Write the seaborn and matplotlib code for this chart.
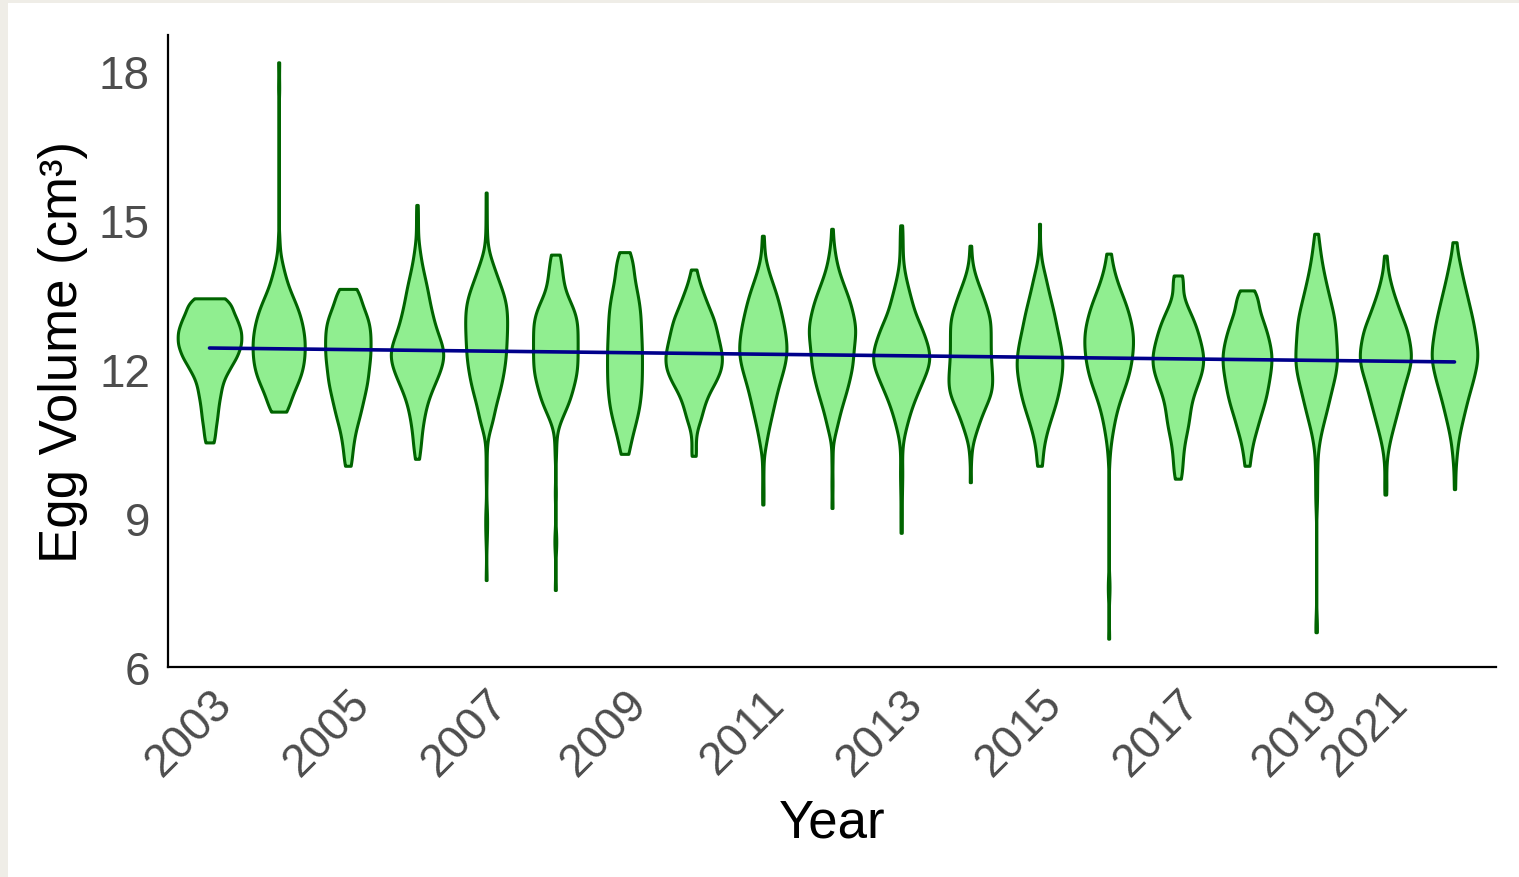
import numpy as np
import pandas as pd
import matplotlib
matplotlib.use("Agg")
import matplotlib.pyplot as plt
import seaborn as sns

# Years sampled (no 2020 season)
years = [2003, 2004, 2005, 2006, 2007, 2008, 2009, 2010, 2011, 2012,
         2013, 2014, 2015, 2016, 2017, 2018, 2019, 2021, 2022]
label_years = [2003, 2005, 2007, 2009, 2011, 2013, 2015, 2017, 2019, 2021]

# (egg volume, relative count)
v2003 = [(10.52, 4), (10.75, 5), (11.0, 7), (11.25, 8), (11.5, 10), (11.75, 12), (12.0, 18),
         (12.25, 25), (12.5, 29), (12.75, 29), (13.0, 25), (13.25, 18), (13.42, 11)]
v2004 = [(11.14, 8), (11.35, 11), (11.6, 17), (11.85, 23), (12.1, 26), (12.35, 27), (12.6, 27),
         (12.85, 25), (13.1, 22), (13.35, 17), (13.6, 11), (13.85, 7), (14.1, 4), (14.35, 1),
         (14.6, 1), (17.65, 1), (18.17, 1)]
v2005 = [(10.05, 3), (10.25, 4), (10.5, 6), (10.75, 8), (11.0, 12), (11.25, 15), (11.5, 18),
         (11.75, 21), (12.0, 22), (12.25, 24), (12.5, 24), (12.75, 24), (13.0, 22), (13.25, 16),
         (13.5, 10), (13.61, 6)]
v2006 = [(10.19, 2), (10.4, 3), (10.6, 4), (10.85, 6), (11.1, 8), (11.35, 11), (11.6, 16),
         (11.85, 22), (12.1, 27), (12.35, 29), (12.6, 24), (12.85, 19), (13.1, 16), (13.35, 13),
         (13.6, 11), (13.85, 8), (14.1, 5), (14.35, 3), (14.55, 1), (14.8, 1), (15.05, 1), (15.3, 1)]
v2007 = [(7.75, 1), (8.6, 1), (8.9, 1), (9.1, 1), (9.9, 1), (10.4, 1), (10.85, 4), (11.0, 6),
         (11.25, 9), (11.5, 13), (11.75, 16), (12.0, 18), (12.25, 20), (12.5, 20), (12.75, 21),
         (13.0, 21), (13.25, 21), (13.5, 18), (13.75, 13), (14.0, 8), (14.2, 4), (14.45, 1),
         (14.7, 1), (15.1, 1), (15.55, 1)]
v2008 = [(7.55, 1), (8.45, 1), (8.6, 1), (9.5, 1), (10.3, 1), (10.6, 1), (10.93, 3), (11.1, 6),
         (11.3, 10), (11.5, 14), (11.75, 19), (12.0, 21), (12.25, 21), (12.5, 21), (12.75, 21),
         (13.0, 21), (13.25, 17), (13.5, 10), (13.75, 7), (14.0, 7), (14.3, 6)]
v2009 = [(10.29, 4), (10.5, 5), (10.75, 9), (11.0, 12), (11.25, 15), (11.5, 16), (11.75, 17),
         (12.0, 17), (12.25, 17), (12.5, 17), (12.75, 16), (13.0, 16), (13.25, 15), (13.5, 13),
         (13.75, 10), (14.0, 8), (14.2, 6), (14.35, 4)]
v2010 = [(10.25, 3), (10.5, 2), (10.75, 3), (11.0, 8), (11.25, 11), (11.5, 16), (11.75, 24),
         (12.0, 30), (12.25, 31), (12.5, 28), (12.75, 25), (13.0, 22), (13.25, 16), (13.5, 11),
         (13.75, 6), (14.0, 3)]
v2011 = [(9.27, 1), (9.6, 1), (10.0, 1), (10.4, 2), (10.6, 4), (10.85, 7), (11.1, 10), (11.35, 13),
         (11.6, 16), (11.85, 20), (12.1, 24), (12.35, 26), (12.6, 25), (12.85, 23), (13.1, 20),
         (13.35, 17), (13.6, 13), (13.85, 8), (14.1, 4), (14.35, 1), (14.5, 1), (14.68, 1)]
v2012 = [(9.2, 1), (9.7, 1), (10.2, 1), (10.66, 2), (10.86, 5), (11.1, 8), (11.35, 12), (11.6, 16),
         (11.85, 19), (12.1, 22), (12.35, 22), (12.6, 24), (12.85, 25), (13.1, 22), (13.35, 19),
         (13.6, 14), (13.85, 9), (14.1, 5), (14.35, 3), (14.6, 1), (14.82, 1)]
v2013 = [(8.7, 1), (9.1, 1), (9.5, 1), (9.8, 1), (10.0, 1), (10.3, 1), (10.6, 2), (10.85, 5),
         (11.1, 8), (11.35, 12), (11.6, 17), (11.85, 22), (12.1, 27), (12.35, 27), (12.6, 23),
         (12.85, 19), (13.1, 13), (13.35, 10), (13.6, 7), (13.85, 4), (14.1, 2), (14.35, 1),
         (14.5, 1), (14.7, 1), (14.89, 1)]
v2014 = [(9.72, 1), (10.2, 1), (10.5, 2), (10.75, 6), (11.0, 10), (11.25, 15), (11.5, 21),
         (11.75, 22), (12.0, 21), (12.25, 20), (12.5, 20), (12.75, 20), (13.0, 20), (13.25, 16),
         (13.5, 12), (13.75, 7), (14.0, 3), (14.25, 1), (14.48, 1)]
v2015 = [(10.05, 3), (10.3, 3), (10.55, 5), (10.8, 8), (11.05, 12), (11.3, 16), (11.55, 19),
         (11.8, 21), (12.05, 23), (12.3, 22), (12.55, 20), (12.8, 17), (13.05, 15), (13.3, 12),
         (13.55, 9), (13.8, 6), (14.0, 3), (14.2, 1), (14.4, 1), (14.92, 1)]
v2016 = [(6.57, 1), (7.5, 1), (7.7, 1), (10.2, 1), (10.5, 2), (10.75, 4), (11.0, 6), (11.25, 9),
         (11.5, 13), (11.75, 18), (12.0, 21), (12.25, 23), (12.5, 24), (12.75, 24), (13.0, 21),
         (13.25, 18), (13.5, 13), (13.75, 8), (14.0, 5), (14.32, 3)]
v2017 = [(9.79, 3), (10.0, 4), (10.25, 5), (10.5, 6), (10.75, 9), (11.0, 11), (11.25, 12),
         (11.5, 15), (11.75, 20), (12.0, 24), (12.25, 25), (12.5, 22), (12.75, 19), (13.0, 15),
         (13.25, 9), (13.5, 4), (13.75, 4), (13.88, 4)]
v2018 = [(10.05, 3), (10.3, 3), (10.5, 5), (10.75, 9), (11.0, 12), (11.25, 16), (11.5, 19),
         (11.75, 21), (12.0, 23), (12.25, 24), (12.5, 22), (12.75, 19), (13.0, 15), (13.25, 10),
         (13.45, 7), (13.58, 5)]
v2019 = [(6.7, 1), (6.85, 1), (9.3, 1), (9.5, 1), (9.8, 1), (10.0, 1), (10.2, 1), (10.5, 3),
         (10.75, 5), (11.0, 9), (11.25, 12), (11.5, 15), (11.75, 18), (12.0, 22), (12.25, 22),
         (12.5, 21), (12.75, 20), (13.0, 20), (13.25, 16), (13.5, 13), (13.75, 10), (14.0, 7),
         (14.25, 5), (14.5, 3), (14.72, 2)]
v2021 = [(9.47, 1), (9.7, 1), (10.0, 1), (10.3, 2), (10.55, 4), (10.8, 7), (11.05, 10), (11.3, 13),
         (11.55, 16), (11.8, 19), (12.05, 23), (12.3, 24), (12.55, 22), (12.8, 20), (13.05, 15),
         (13.3, 11), (13.55, 7), (13.8, 4), (14.0, 1), (14.15, 1), (14.28, 1)]
v2022 = [(9.58, 1), (9.9, 1), (10.2, 2), (10.45, 3), (10.7, 5), (10.95, 8), (11.2, 11), (11.45, 14),
         (11.7, 18), (11.95, 21), (12.2, 24), (12.45, 23), (12.7, 21), (12.95, 19), (13.2, 16),
         (13.45, 13), (13.7, 10), (13.95, 7), (14.2, 5), (14.55, 3)]

profiles = [v2003, v2004, v2005, v2006, v2007, v2008, v2009, v2010, v2011, v2012,
            v2013, v2014, v2015, v2016, v2017, v2018, v2019, v2021, v2022]

# linear trend across years
trend_years = [2003, 2022]
trend_vals = [12.42, 12.14]

# expand the profiles into an observation table
rows = []
for yr, prof in zip(years, profiles):
    for val, n in prof:
        rows += [(str(yr), val)] * n
df = pd.DataFrame(rows, columns=['Year', 'Volume'])

sns.set_theme(style='white')
plt.rcParams['font.family'] = ['Liberation Sans', 'DejaVu Sans']

fig = plt.figure(figsize=(15.19, 8.78), dpi=100)
fig.patch.set_facecolor('#efede7')
fig.add_artist(plt.Rectangle((8 / 1519, 0), 1, 1 - 4 / 878, transform=fig.transFigure,
                             facecolor='white', edgecolor='none', zorder=-1))
ax = fig.add_axes([168 / 1519, 1 - 668 / 878, (1496 - 168) / 1519, (668 - 36) / 878])

sns.violinplot(data=df, x='Year', y='Volume', order=[str(y) for y in years],
               color='lightgreen', saturation=1, linecolor='darkgreen', linewidth=2.2,
               inner=None, cut=0, width=0.92, density_norm='area', bw_method=0.22,
               gridsize=300, ax=ax)

xs = [years.index(y) for y in trend_years]
sns.lineplot(x=xs, y=trend_vals, color='darkblue', linewidth=2.6, ax=ax)

ax.set_xlim(-0.6, len(years) - 0.4)
ax.set_ylim(6.0, 18.72)
ax.set_yticks([6, 9, 12, 15, 18])
ax.set_xticks([years.index(y) for y in label_years])
ax.set_xticklabels([str(y) for y in label_years], rotation=45, ha='right',
                   rotation_mode='anchor')
ax.tick_params(axis='both', length=0, labelsize=33, labelcolor='#4d4d4d')
ax.tick_params(axis='x', pad=10)
ax.tick_params(axis='y', pad=13)

for side in ['top', 'right']:
    ax.spines[side].set_visible(False)
for side in ['left', 'bottom']:
    ax.spines[side].set_color('black')
    ax.spines[side].set_linewidth(1.6)

ax.set_xlabel('Year', fontsize=38, color='black', labelpad=10)
ax.set_ylabel('Egg Volume (cm³)', fontsize=38, color='black', labelpad=8)

fig.savefig('out.png', dpi=100)
